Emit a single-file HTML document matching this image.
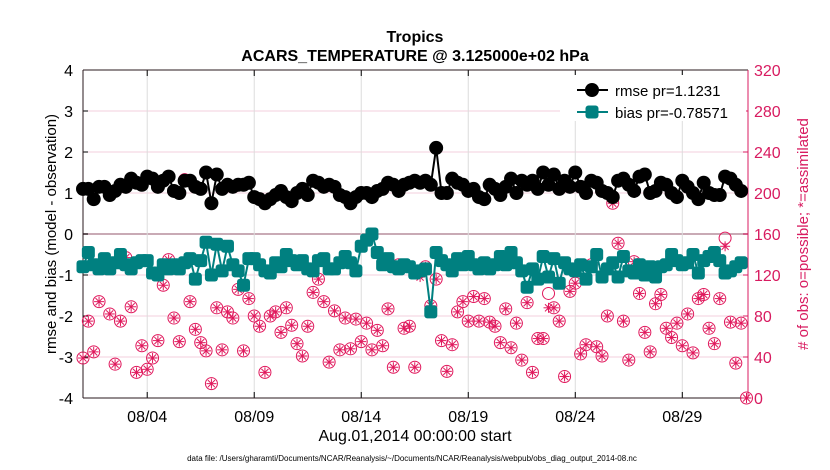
<!DOCTYPE html>
<html><head><meta charset="utf-8"><style>
body{margin:0;background:#fff;}
svg{display:block;font-family:"Liberation Sans",Arial,sans-serif;}
</style></head><body>
<svg id="chart" width="830" height="470" viewBox="0 0 830 470" xmlns="http://www.w3.org/2000/svg">
<g id="grid"></g>
<g id="axes"></g>
<g id="counts"></g>
<g id="bias"></g>
<g id="rmse"></g>
<text x="415" y="42" text-anchor="middle" font-size="16" font-weight="bold">Tropics</text>
<text x="415" y="61" text-anchor="middle" font-size="16" font-weight="bold">ACARS_TEMPERATURE @ 3.125000e+02 hPa</text>
<text transform="translate(56,234) rotate(-90)" text-anchor="middle" font-size="15">rmse and bias (model - observation)</text>
<text transform="translate(808,234) rotate(-90)" text-anchor="middle" font-size="15" fill="#d81b60"># of obs: o=possible; *=assimilated</text>
<text x="415" y="441" text-anchor="middle" font-size="16">Aug.01,2014 00:00:00 start</text>
<text x="412" y="461" text-anchor="middle" font-size="8">data file: /Users/gharamti/Documents/NCAR/Reanalysis/~/Documents/NCAR/Reanalysis/webpub/obs_diag_output_2014-08.nc</text>
<g>
<rect x="560" y="75" width="186" height="46" fill="#fff"/>
<line x1="577" y1="90" x2="608" y2="90" stroke="#000" stroke-width="2"/>
<circle cx="592" cy="90" r="7" fill="#000"/>
<text x="615" y="96" font-size="15">rmse pr=1.1231</text>
<line x1="577" y1="112" x2="608" y2="112" stroke="#008080" stroke-width="2"/>
<rect x="585.5" y="105.5" width="13" height="13" rx="3" fill="#008080"/>
<text x="615" y="118" font-size="15">bias pr=-0.78571</text>
</g>
</svg>
<script>
const xTickLabels=["08/04","08/09","08/14","08/19","08/24","08/29"];
const xTickDays=[4,9,14,19,24,29];
const yTicks=[4,3,2,1,0,-1,-2,-3,-4];
const y2Ticks=[0,40,80,120,160,200,240,280,320];
const rmse=[1.1,1.1,0.85,1.15, 1.15,0.95,1.05,1.2, 1.15,1.35,1.25,1.2, 1.4,1.35,1.15,1.3, 1.4,1.05,1.0,1.3, 1.3,1.15,1.1,1.5,
0.75,1.45,1.1,1.2, 1.15,1.2,1.2,1.25, 0.9,0.85,0.75,0.85, 0.95,1.05,0.9,0.8, 1.0,1.1,0.95,1.3, 1.25,1.15,1.2,1.15,
0.95,0.9,0.75,0.9, 1.0,1.0,0.9,1.05, 1.1,1.25,1.2,1.05, 1.2,1.25,1.3,1.25, 1.3,1.2,2.1,1.0, 1.0,1.35,1.25,1.2,
1.05,1.1,0.9,0.85, 1.2,1.1,0.95,1.15, 1.35,1.0,1.3,1.2, 1.3,1.1,1.5,1.2, 1.45,1.1,1.3,1.15, 1.5,1.15,1.0,1.3,
1.25,1.05,1.0,0.9, 1.3,1.35,1.2,1.05, 1.4,1.45,1.0,1.05, 1.25,1.2,1.0,0.9, 1.3,1.15,1.0,0.85, 1.25,1.0,0.95,0.95, 1.4,1.35,1.2,1.05];
const bias=[-0.8,-0.45,-0.75,-0.85, -0.6,-0.85,-0.7,-0.5, -0.75,-0.85,-0.7,-0.65, -0.65,-0.95,-1.0,-0.75, -0.85,-0.75,-0.85,-0.7, -0.6,-1.1,-0.65,-0.2,
-1.0,-0.25,-0.9,-0.3, -0.75,-0.9,-1.25,-0.6, -0.6,-0.75,-0.9,-0.95, -0.7,-0.8,-0.5,-0.65, -0.75,-0.65,-0.85,-0.9, -0.65,-0.6,-0.85,-0.85,
-0.7,-0.55,-0.7,-0.9, -0.3,-0.15,0.0,-0.45, -0.75,-0.6,-0.8,-0.85, -0.75,-0.8,-0.95,-0.9, -0.85,-1.9,-0.45,-0.65, -0.75,-0.9,-0.6,-0.75,
-0.55,-0.75,-0.85,-0.7, -0.85,-0.75,-0.55,-0.75, -0.45,-0.7,-0.9,-1.3, -0.85,-1.1,-0.55,-1.05, -0.6,-1.2,-0.7,-0.85, -0.9,-0.75,-1.1,-0.8,
-0.5,-1.05,-0.85,-0.7, -1.05,-0.55,-0.9,-0.95, -0.75,-1.0,-0.8,-1.05, -0.8,-0.75,-0.5,-0.65, -0.75,-0.7,-0.5,-0.95, -0.65,-0.55,-0.45,-0.65, -0.95,-0.9,-0.8,-0.7];
const possible=[39,75,45,94,135,82,33,75,137,89,25,51,28,39,56,110,135,78,55,213,94,67,54,46,14,88,47,84,78,106,46,97,80,70,25,80,84,64,88,71,53,41,
70,103,116,94,35,85,47,78,48,77,55,73,47,66,51,87,30,130,68,70,30,123,128,90,116,56,26,52,84,94,75,99,75,97,74,70,54,87,49,73,
37,93,25,58,58,102,88,75,21,104,112,43,52,130,50,41,80,190,151,75,37,133,102,64,45,92,101,68,59,73,51,82,44,97,101,68,53,97,156,74,34,73,0];
const assimilated=[39,75,45,94,135,82,33,75,137,89,25,51,28,39,56,110,135,78,55,213,94,67,54,46,14,88,47,84,78,106,46,97,80,70,25,80,84,64,88,71,53,41,
70,103,116,94,35,85,47,78,48,77,55,73,47,66,51,87,30,130,68,70,30,118,128,90,116,56,26,52,84,94,75,99,75,97,74,70,54,87,49,73,
37,93,25,58,58,88,88,75,21,104,112,43,52,130,50,41,80,190,151,75,37,133,102,64,45,92,101,68,59,73,51,82,44,97,101,68,53,97,148,74,34,73,0];

const L=83,R=748,T=70,B=398,D0=1,D1=32.07;
const xs=d=>L+(d-D0)/(D1-D0)*(R-L);
const xi=i=>xs(1+i/4);
const ys=v=>T+(4-v)/8*(B-T);
const y2=c=>B-c/320*(B-T);
const NS="http://www.w3.org/2000/svg";
function mk(tag,parent,attrs){const e=document.createElementNS(NS,tag);for(const k in attrs)e.setAttribute(k,attrs[k]);parent.appendChild(e);return e;}
const grid=document.getElementById('grid'),axes=document.getElementById('axes');
yTicks.forEach(v=>{
  const g=mk('line',grid,{x1:L,x2:R,y1:ys(v),y2:ys(v),stroke:v===0?'#c9aab5':'#f3cfdc','stroke-width':v===0?2:1});
  
  
  const t=mk('text',axes,{x:L-10,y:ys(v)+6,'text-anchor':'end','font-size':16});
  t.textContent=v;
  
  
  mk('line',axes,{x1:L,x2:L+5,y1:ys(v),y2:ys(v),stroke:'#000'});
});
xTickDays.forEach((d,k)=>{
  const g=mk('line',grid,{x1:xs(d),x2:xs(d),y1:T,y2:B,stroke:'#dcdcdc','stroke-width':1});
  
  
  mk('line',axes,{x1:xs(d),x2:xs(d),y1:B,y2:B-6,stroke:'#000'});
  mk('line',axes,{x1:xs(d),x2:xs(d),y1:T,y2:T+6,stroke:'#000'});
  const t=mk('text',axes,{x:xs(d),y:B+24,'text-anchor':'middle','font-size':16});
  t.textContent=xTickLabels[k];
  
  
});
y2Ticks.forEach(c=>{
  mk('line',axes,{x1:R-5,x2:R,y1:y2(c),y2:y2(c),stroke:'#d81b60'});
  const t=mk('text',axes,{x:R+6,y:y2(c)+6,'font-size':16,fill:'#d81b60'});
  t.textContent=c;
  
  
});
mk('line',axes,{x1:L,x2:R,y1:T,y2:T,stroke:'#2a1a1e'});
mk('line',axes,{x1:L,x2:R,y1:B,y2:B,stroke:'#2a1a1e'});
mk('line',axes,{x1:L,x2:L,y1:T,y2:B,stroke:'#2a1a1e'});
mk('line',axes,{x1:R,x2:R,y1:T,y2:B,stroke:'#d81b60'});

const cg=document.getElementById('counts');
possible.forEach((c,i)=>{
  const e=mk('circle',cg,{cx:xi(i),cy:y2(c),r:6,fill:'none',stroke:'#e0185c','stroke-width':1});
  
  
});
assimilated.forEach((c,i)=>{
  const x=xi(i),y=y2(c),g=mk('g',cg,{});
  
  
  for(let a=0;a<4;a++){const an=a*Math.PI/4;mk('line',g,{x1:x-5*Math.cos(an),y1:y-5*Math.sin(an),x2:x+5*Math.cos(an),y2:y+5*Math.sin(an),stroke:'#e0185c','stroke-width':1});}
});
const bg=document.getElementById('bias');
mk('polyline',bg,{points:bias.map((v,i)=>xi(i)+','+ys(v)).join(' '),fill:'none',stroke:'#008080','stroke-width':2});
bias.forEach((v,i)=>{
  const e=mk('rect',bg,{x:xi(i)-6.5,y:ys(v)-6.5,width:13,height:13,rx:3,fill:'#008080'});
  
  
});
const rg=document.getElementById('rmse');
mk('polyline',rg,{points:rmse.map((v,i)=>xi(i)+','+ys(v)).join(' '),fill:'none',stroke:'#000','stroke-width':2});
rmse.forEach((v,i)=>{
  const e=mk('circle',rg,{cx:xi(i),cy:ys(v),r:7,fill:'#000'});
  
  
});
</script>
</body></html>
